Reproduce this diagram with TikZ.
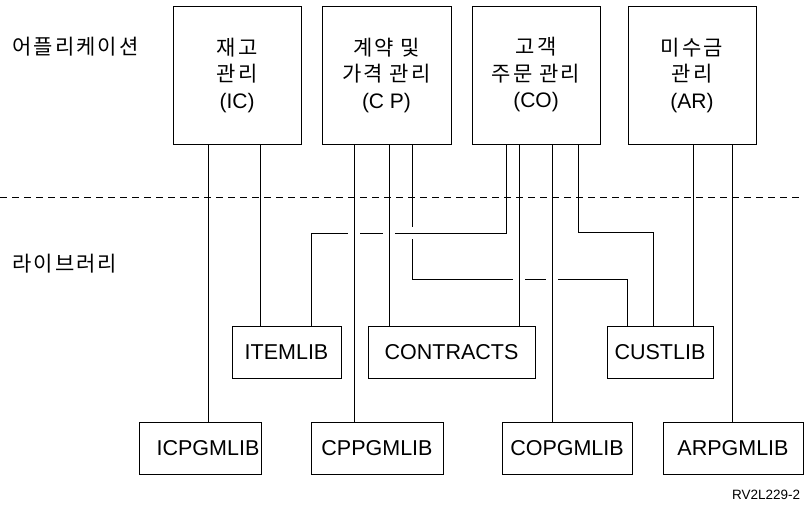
\documentclass[tikz,border=0pt]{standalone}
\usepackage{fontspec}
\setmainfont{Liberation Sans}
\newfontfamily\kr[LetterSpace=10]{Noto Sans CJK KR}
\usetikzlibrary{backgrounds}

\begin{document}
\begin{tikzpicture}[x=1pt,y=-1pt,
            appbox/.style={draw,line width=0.9pt,minimum width=128pt,minimum height=138pt,
                inner sep=0pt,align=center,font=\fontsize{21}{26.5}\selectfont},
            libbox/.style={draw,line width=0.9pt,minimum height=52pt,inner sep=0pt,
                font=\fontsize{21.5}{21.5}\selectfont},
            link/.style={line width=0.8pt},
            crossing/.style={link,preaction={draw,white,line width=12pt}},
            sepline/.style={line width=0.9pt,dash pattern=on 7pt off 5pt}]
            \useasboundingbox (0,0) rectangle (804,505);

            \node[appbox] (ic) at (237,75) {{\kr 재고}\\{\kr 관리}\\(IC)};
            \node[appbox,minimum width=129pt] (cp) at (386.5,75) {{\kr 계약 및}\\{\kr 가격 관리}\\(C P)};
            \node[appbox] (co) at (536,75) {{\kr 고객}\\{\kr 주문 관리}\\(CO)};
            \node[appbox] (ar) at (692,75) {{\kr 미수금}\\{\kr 관리}\\(AR)};

            \node[libbox,minimum width=109pt] (itemlib) at (286.5,352) {ITEMLIB};
            \node[libbox,minimum width=167pt] (contracts) at (451.5,352) {CONTRACTS};
            \node[libbox,minimum width=106pt] (custlib) at (660,352) {CUSTLIB};

            \node[libbox,minimum width=122pt] (icpgm) at (200,448) {\hspace*{16pt}ICPGMLIB};
            \node[libbox,minimum width=132pt] (cppgm) at (377,448) {CPPGMLIB};
            \node[libbox,minimum width=130pt] (copgm) at (567,448) {COPGMLIB};
            \node[libbox,minimum width=140pt] (arpgm) at (733,448) {ARPGMLIB};

            \node[anchor=west,inner sep=0pt,font=\fontsize{21}{21}\selectfont] (applbl) at (12,47) {\kr 어플리케이션};
            \node[anchor=west,inner sep=0pt,font=\fontsize{21}{21}\selectfont] (liblbl) at (12,264) {\kr 라이브러리};
            \node[anchor=base west,inner sep=0pt,font=\fontsize{13.5}{13.5}\selectfont] (figid) at (732,499) {RV2L229-2};

            \begin{pgfonlayer}{background}
                \draw[link] ([xshift=25.5pt]cp.south) -- ++(0,135) -| ([xshift=-33pt]custlib.north);
                \draw[crossing] ([xshift=-30pt]co.south) -- ++(0,89) -| ([xshift=24.5pt]itemlib.north);

                \draw[crossing] ([xshift=-32.5pt]cp.south) coordinate (cpa) -- (cpa |- cppgm.north);
                \draw[crossing] ([xshift=2.5pt]cp.south) coordinate (cpb) -- (cpb |- contracts.north);
                \draw[crossing] ([xshift=-17pt]co.south) coordinate (coa) -- (coa |- contracts.north);
                \draw[crossing] ([xshift=16pt]co.south) coordinate (cob) -- (cob |- copgm.north);

                \draw[link] ([xshift=-29pt]ic.south) coordinate (ica) -- (ica |- icpgm.north);
                \draw[link] ([xshift=23pt]ic.south) coordinate (icb) -- (icb |- itemlib.north);
                \draw[link] ([xshift=42pt]co.south) -- ++(0,88) -| ([xshift=-7pt]custlib.north);
                \draw[link] ([xshift=1pt]ar.south) coordinate (ara) -- (ara |- custlib.north);
                \draw[link] ([xshift=40pt]ar.south) coordinate (arb) -- (arb |- arpgm.north);
            \end{pgfonlayer}

            \coordinate (sepl) at (0,197);
            \coordinate (sepr) at (804,197);
            \draw[sepline] (sepl) -- (sepr);
        \end{tikzpicture}
\end{document}
